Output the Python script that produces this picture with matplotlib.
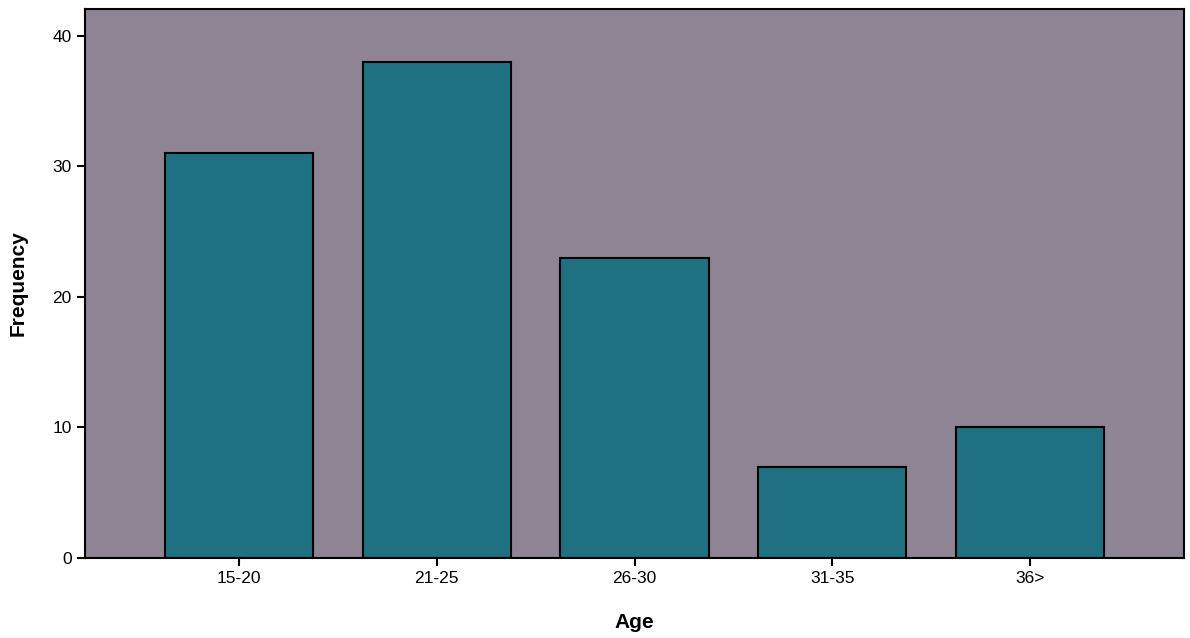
import matplotlib
matplotlib.use("Agg")
import matplotlib.pyplot as plt

# data
age_groups = ["15-20", "21-25", "26-30", "31-35", "36>"]
frequency = [31, 38, 23, 7, 10]

plt.rcParams['font.family'] = ['Liberation Sans', 'DejaVu Sans']

fig = plt.figure(figsize=(11.9, 6.38), dpi=100)
ax = fig.add_axes([0.0714, 0.1254, 0.9236, 0.8606])
ax.set_facecolor("#8e8493")

x = range(len(age_groups))
ax.bar(x, frequency, width=0.75, color="#1f7081", edgecolor="black", linewidth=1.5)

ax.set_xlim(-0.78, 4.78)
ax.set_ylim(0, 42.07)
ax.set_yticks([0, 10, 20, 30, 40])
ax.set_xticks(list(x))
ax.set_xticklabels(age_groups)
ax.tick_params(axis='both', labelsize=12.5, width=1.5, length=6, color="black")

for s in ax.spines.values():
    s.set_linewidth(1.5)

ax.set_xlabel("Age", fontsize=15, fontweight="bold", labelpad=19)
ax.set_ylabel("Frequency", fontsize=15, fontweight="bold", labelpad=18)

fig.savefig("out.png", dpi=100)
